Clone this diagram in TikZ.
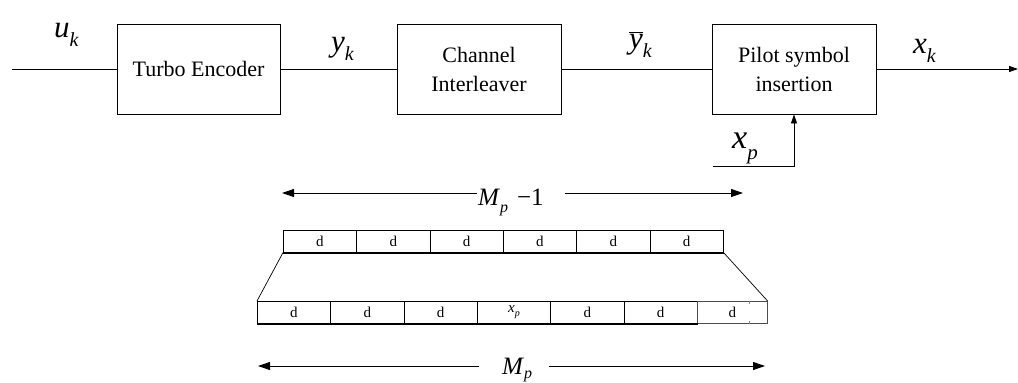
\documentclass[tikz,border=0pt]{standalone}
\usepackage{fontspec}
\setmainfont{Liberation Serif}
\usetikzlibrary{arrows.meta}
\newcommand\lsub[1]{\raisebox{-0.3em}{\fontsize{20}{20}\selectfont\itshape #1}}
\begin{document}
\begin{tikzpicture}[x=1pt,y=-1pt,
  blk/.style={draw, line width=0.9pt, minimum width=163pt, minimum height=90pt, inner sep=0pt, align=center, font=\fontsize{22}{29}\selectfont},
  cell/.style={draw, line width=0.6pt, minimum width=73.33pt, minimum height=22pt, inner sep=0pt, anchor=north west, font=\fontsize{15}{15}\selectfont},
  lbl/.style={inner sep=0pt, anchor=base west, font=\fontsize{31}{31}\selectfont\itshape},
  mlbl/.style={inner sep=0pt, anchor=base west, font=\fontsize{25}{25}\selectfont\itshape},
  wire/.style={line width=0.9pt},
  arr/.style={wire, -{Triangle[length=12pt,width=8pt]}},
  sarr/.style={wire, -{Triangle[length=9pt,width=6pt]}}]
\useasboundingbox (0,0) rectangle (1018,383);
% blocks
\node[blk] (te) at (198.5,69) {Turbo Encoder};
\node[blk, minimum width=164pt] (ci) at (479,69) {Channel\\Interleaver};
\node[blk, minimum width=164pt] (ps) at (794,69) {Pilot symbol\\insertion};
\coordinate (in) at (12,69);
\coordinate (out) at (1018,69);
\coordinate (pin) at (713,166);
\draw[wire] (in) -- (te);
\draw[wire] (te) -- (ci);
\draw[wire] (ci) -- (ps);
\draw[sarr] (ps) -- (out);
\draw[sarr] (pin) -| (ps.south);
% signal labels
\node[lbl] (uk) at (54,37) {u\lsub{k}};
\node[lbl] (yk) at (331,51) {y\lsub{k}};
\node[lbl] (ybk) at (629,48) {$\overline{\hbox{\itshape y}}$\lsub{k}};
\node[lbl] (xk) at (913,53) {x\lsub{k}};
\node[lbl, font=\fontsize{34}{34}\selectfont\itshape] (xp) at (732,148) {x\raisebox{-0.35em}{\fontsize{21}{21}\selectfont\itshape p}};
% M_p - 1 dimension
\node[mlbl] (mp1) at (478,205) {M\hspace{1pt}\raisebox{-7pt}{\fontsize{16}{16}\selectfont p}\hspace{9pt}\upshape −1};
\coordinate (a1) at (477,193);
\coordinate (a2) at (282,193);
\coordinate (a3) at (565,193);
\coordinate (a4) at (743,193);
\draw[arr] (a1) -- (a2);
\draw[arr] (a3) -- (a4);
% upper row
\foreach \i in {1,...,6}
  \node[cell] (u\i) at ({283+(\i-1)*73.33},230) {d};
\draw[line width=2pt] (u1.south west) -- (u6.south east);
% lower row
\foreach \i/\t in {1/d,2/d,3/d,4/{\itshape x\raisebox{-0.3em}{\fontsize{10}{10}\selectfont\itshape p}},5/d,6/d}
  \node[cell] (l\i) at ({257+(\i-1)*73.33},301) {\t};
\node[cell, minimum width=70pt, draw=black!70] (l7) at (697,301) {d};
\draw[line width=2pt] (l1.south west) -- (l6.south east);
\draw[black!50, line width=0.6pt] ([xshift=52pt]l7.north west) -- ++(0,3);
\draw[black!50, line width=0.6pt] ([xshift=52pt]l7.south west) -- ++(0,-3);
\draw[line width=0.7pt] (u1.south west) -- (l1.north west);
\draw[line width=0.7pt] (u6.south east) -- (l7.north east);
% M_p dimension
\node[mlbl] (mp) at (502,374) {M\hspace{1pt}\raisebox{-4pt}{\fontsize{16}{16}\selectfont p}};
\coordinate (b1) at (479,366);
\coordinate (b2) at (258,366);
\coordinate (b3) at (549,366);
\coordinate (b4) at (765,366);
\draw[arr] (b1) -- (b2);
\draw[arr] (b3) -- (b4);
\end{tikzpicture}
\end{document}
